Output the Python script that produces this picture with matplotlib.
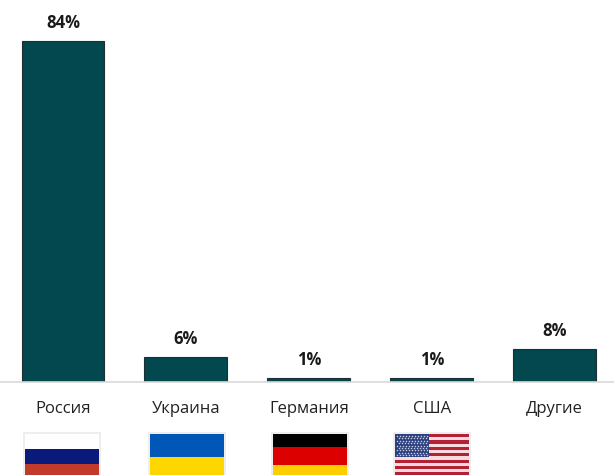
import matplotlib
matplotlib.use('Agg')
import matplotlib.pyplot as plt
from matplotlib.patches import Rectangle

plt.rcParams['font.family'] = ['Open Sans', 'DejaVu Sans']

countries = ['Россия', 'Украина', 'Германия', 'США', 'Другие']
shares = [84, 6, 0.75, 0.75, 8]
share_labels = ['84%', '6%', '1%', '1%', '8%']

W, H = 614, 475
fig = plt.figure(figsize=(W / 100, H / 100), dpi=100)

# main axes: bottom edge sits on the grey base line
ax = fig.add_axes([0, 1 - 381.5 / H, 1, 381.5 / H])
ax.set_xlim(-0.5127, 4.483)
ax.set_ylim(0, 94.2)
ax.bar(range(len(countries)), shares, width=0.675, color='#03474f', edgecolor='#1c2f33', linewidth=0.8)
for i, s in enumerate(shares):
    ax.annotate(share_labels[i], (i, s), xytext=(0, 9), textcoords='offset pixels',
                ha='center', va='bottom', fontsize=12, fontweight='bold', color='#1a1a1a',
                annotation_clip=False)
    ax.text(i, -28 / 4.05, countries[i], ha='center', va='center', fontsize=12, color='#222222')
ax.set_xticks([])
ax.set_yticks([])
for side in ['top', 'left', 'right']:
    ax.spines[side].set_visible(False)
ax.spines['bottom'].set_color('#d9d9d9')
ax.spines['bottom'].set_linewidth(1.2)
ax.patch.set_alpha(0)

# overlay in pixel coordinates for the flags
fl = fig.add_axes([0, 0, 1, 1])
fl.set_xlim(0, W)
fl.set_ylim(H, 0)
fl.axis('off')
fl.patch.set_alpha(0)


def stripes(x0, cols, edges):
    fl.add_patch(Rectangle((x0 - 2, 432), 78, 45, fc='#eeeeee', ec='none'))
    for c, a, b in zip(cols, edges[:-1], edges[1:]):
        fl.add_patch(Rectangle((x0, a), 74, b - a, fc=c, ec='none'))


stripes(25, ['#ffffff', '#0a1a7a', '#c23a2a'], [434, 449, 464, 476])
stripes(150, ['#0057b8', '#ffd700'], [434, 457, 476])
stripes(273, ['#000000', '#dd0000', '#ffce00'], [434, 447, 465, 476])

# USA
x0 = 395
stripes(x0, ['#ffffff'], [434, 476])
for k in range(13):
    if k % 2 == 0:
        fl.add_patch(Rectangle((x0, 434 + k * 3.2), 74, 3.2, fc='#b22234', ec='none'))
    else:
        fl.add_patch(Rectangle((x0, 434 + k * 3.2), 74, 3.2, fc='#f7dbe0', ec='none'))
fl.add_patch(Rectangle((x0, 434), 34, 23, fc='#2a3f7e', ec='none'))
star_x = []
star_y = []
for r in range(9):
    for c in range(11 if r % 2 == 0 else 10):
        star_x.append(x0 + 2 + c * 3 + (0 if r % 2 == 0 else 1.5))
        star_y.append(436 + r * 2.4)
fl.scatter(star_x, star_y, s=1.2, color='#c9d0e6', linewidths=0)

fig.savefig('out.png', dpi=100)
